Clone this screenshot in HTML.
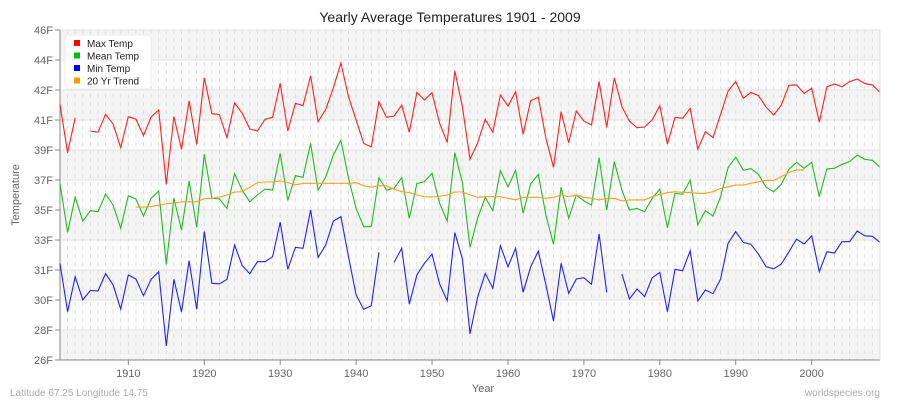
<!DOCTYPE html>
<html><head><meta charset="utf-8"><style>
body{margin:0;background:#fff;font-family:"Liberation Sans",sans-serif}
svg{display:block}
</style></head><body>
<svg id="chart" width="900" height="400" xmlns="http://www.w3.org/2000/svg" font-family="Liberation Sans, sans-serif"></svg>
<script>
const years=[];for(let y=1901;y<=2009;y++)years.push(y);
const maxTemp=[41.5,38.56,40.68,null,39.88,39.8,40.89,40.3,38.87,40.75,40.6,39.6,40.73,41.15,36.65,40.75,38.77,41.7,39.07,43.1,40.93,40.87,39.47,41.58,40.95,40.0,39.88,40.59,40.71,42.77,39.88,41.56,41.41,43.23,40.44,41.19,42.47,44.0,41.96,40.55,39.13,38.91,41.65,40.71,40.79,41.44,39.8,42.22,41.76,42.2,40.35,39.19,43.52,41.35,38.16,39.15,40.59,39.8,42.06,41.39,42.26,39.68,41.72,41.92,39.44,37.68,41.05,39.17,41.09,40.48,40.24,42.87,40.1,43.1,41.35,40.48,40.08,40.12,40.55,41.41,39.09,40.71,40.65,41.25,38.77,39.84,39.47,40.89,42.3,42.87,41.86,42.22,42.02,41.32,40.85,41.45,42.65,42.67,42.16,42.47,40.41,42.56,42.73,42.56,42.87,43.03,42.75,42.67,42.22];
const meanTemp=[36.71,33.74,35.86,34.42,35.05,34.99,36.06,35.39,33.98,35.96,35.76,34.73,35.8,36.24,31.8,35.8,33.88,36.85,34.04,38.47,35.8,35.76,35.19,37.29,36.3,35.59,36.0,36.36,36.3,38.53,35.68,37.17,37.07,39.13,36.3,37.09,38.42,39.32,37.01,35.19,34.08,34.08,37.05,36.3,36.41,37.05,34.59,36.69,36.81,37.32,35.5,34.42,38.56,36.75,32.83,34.59,35.86,35.05,37.47,36.5,37.5,34.89,36.67,37.25,34.79,33.01,36.47,34.59,36.0,35.65,35.39,38.26,35.09,38.02,36.3,35.09,35.19,34.99,35.8,36.36,34.02,36.1,36.04,36.91,34.18,35.05,34.73,35.9,37.66,38.3,37.5,37.6,37.25,36.47,36.2,36.65,37.56,37.98,37.62,37.98,35.9,37.58,37.62,37.86,38.02,38.42,38.16,38.1,37.68];
const minTemp=[31.86,28.93,31.05,29.64,30.22,30.18,31.23,30.55,29.09,31.15,30.91,29.9,30.89,31.35,26.85,30.89,28.91,32.02,29.07,33.78,30.65,30.62,30.89,32.97,31.72,31.23,31.96,31.96,32.26,34.35,31.5,32.83,32.77,35.09,32.22,32.97,34.42,34.69,32.26,29.94,29.07,29.29,32.53,null,31.92,32.77,29.39,31.15,31.86,32.42,30.61,29.59,33.72,32.12,27.58,29.8,31.25,30.35,32.93,31.65,32.77,30.1,31.65,32.6,30.55,28.36,31.86,30.04,30.91,30.99,30.59,33.64,30.1,null,31.21,29.7,30.3,29.84,30.99,31.31,28.93,31.5,31.41,32.62,29.58,30.24,30.02,30.91,33.07,33.78,33.13,33.01,32.41,31.65,31.53,31.82,32.56,33.33,33.03,33.53,31.35,32.56,32.48,33.17,33.17,33.82,33.53,33.5,33.13];
const trendYears=[];for(let y=1911;y<=1999;y++)trendYears.push(y);
const trend=[35.27,35.27,35.3,35.38,35.47,35.5,35.59,35.59,35.59,35.78,35.8,35.88,36.0,36.18,36.2,36.47,36.75,36.79,36.8,36.85,36.75,36.61,36.71,36.71,36.71,36.71,36.71,36.71,36.71,36.75,36.56,36.48,36.56,36.56,36.35,36.2,36.15,36.0,35.9,35.88,35.92,36.0,36.18,36.18,36.0,35.86,35.9,35.9,35.9,35.8,35.7,35.86,35.86,35.86,35.8,35.86,36.0,35.9,36.0,35.86,35.8,35.7,35.8,35.8,35.64,35.7,35.7,35.7,35.9,36.04,36.14,36.2,36.16,36.16,36.1,36.1,36.2,36.4,36.5,36.6,36.6,36.71,36.8,36.89,36.89,37.11,37.37,37.52,37.52];
const yTickLabels=["46F","44F","42F","41F","39F","37F","35F","33F","31F","30F","28F","26F"];
const xTickYears=[1910,1920,1930,1940,1950,1960,1970,1980,1990,2000];

const L=60,R=880,T=30,B=360;
const xs=y=>L+(y-1901)*(R-L)/(2009-1901);
const ys=v=>B-(v-26)*(B-T)/20;
const svg=document.getElementById('chart');
const NS='http://www.w3.org/2000/svg';
function mk(tag,attrs,parent){const e=document.createElementNS(NS,tag);for(const k in attrs)e.setAttribute(k,attrs[k]);(parent||svg).appendChild(e);return e;}

// bands
const bandH=(B-T)/11;
for(let i=0;i<11;i++){
  const r=mk('rect',{x:L,y:T+i*bandH,width:R-L,height:bandH,fill:i%2===0?'#f4f4f4':'#fbfbfb'});
  
  
}
// vertical dashed grid per year
for(let y=1902;y<=2009;y++){
  const l=mk('line',{x1:xs(y),x2:xs(y),y1:T,y2:B,stroke:'#dedede','stroke-dasharray':'4,4','stroke-width':1});
  
  
}
// horizontal grid + y labels
yTickLabels.forEach((lab,i)=>{
  const yy=T+i*bandH;
  const g=mk('line',{x1:L,x2:R,y1:yy,y2:yy,stroke:'#e4e4e4','stroke-width':1});
  
  
  const t=mk('line',{x1:L-5,x2:L,y1:yy,y2:yy,stroke:'#888'});
  
  
  const tx=mk('text',{x:L-7,y:yy+4,'text-anchor':'end','font-size':11,fill:'#666'});
  tx.textContent=lab;
  
  
});
// axes
const ax=mk('line',{x1:L,x2:L,y1:T,y2:B,stroke:'#888'});


const bx=mk('line',{x1:L,x2:R,y1:B,y2:B,stroke:'#888'});


xTickYears.forEach(y=>{
  const t=mk('line',{x1:xs(y),x2:xs(y),y1:B,y2:B+5,stroke:'#888'});
  
  
  const tx=mk('text',{x:xs(y),y:B+17,'text-anchor':'middle','font-size':11,fill:'#666'});
  tx.textContent=y;
  
  
});
function series(xArr,vals,color,name){
  let d='',pen=false;
  vals.forEach((v,i)=>{
    if(v===null){pen=false;return;}
    d+=(pen?'L':'M')+xs(xArr[i]).toFixed(1)+','+ys(v).toFixed(1);pen=true;
  });
  const p=mk('path',{d:d,fill:'none',stroke:color,'stroke-width':1.1});
  
  
}
series(years,maxTemp,'#ff2020','max-temp-line');
series(years,meanTemp,'#22bb22','mean-temp-line');
series(years,minTemp,'#2222ff','min-temp-line');
series(trendYears,trend,'#ffa020','trend-line');
const ra=mk('line',{x1:R,x2:R,y1:T,y2:B,stroke:'#ddd'});



// legend
const lg=mk('g',{});


mk('rect',{x:65,y:35,width:86,height:54,rx:4,fill:'#fff',stroke:'#eee'},lg);
[['Max Temp','#ff0000'],['Mean Temp','#00bb00'],['Min Temp','#0000ff'],['20 Yr Trend','#ff9900']].forEach((e,i)=>{
  const g=mk('g',{},lg);
  
  
  mk('rect',{x:74,y:40+i*12.5,width:6,height:6,fill:e[1]},g);
  const t=mk('text',{x:87,y:47+i*12.5,'font-size':10,fill:'#222'},g);
  t.textContent=e[0];
});
function txt(x,y,s,size,fill,anchor,name,extra){
  const t=mk('text',Object.assign({x:x,y:y,'font-size':size,fill:fill,'text-anchor':anchor},extra||{}));
  t.textContent=s;
  
  
}
txt(450,22,'Yearly Average Temperatures 1901 - 2009',14,'#222','middle','chart-title');
txt(483,392,'Year',11,'#666','middle','x-axis-title');
txt(19,195,'Temperature',11,'#666','middle','y-axis-title',{transform:'rotate(-90 19 195)'});
txt(10,396,'Latitude 67.25 Longitude 14.75',10,'#aaa','start','location-label');
txt(880,396,'worldspecies.org',10,'#aaa','end','source-label');
</script>
</body></html>
